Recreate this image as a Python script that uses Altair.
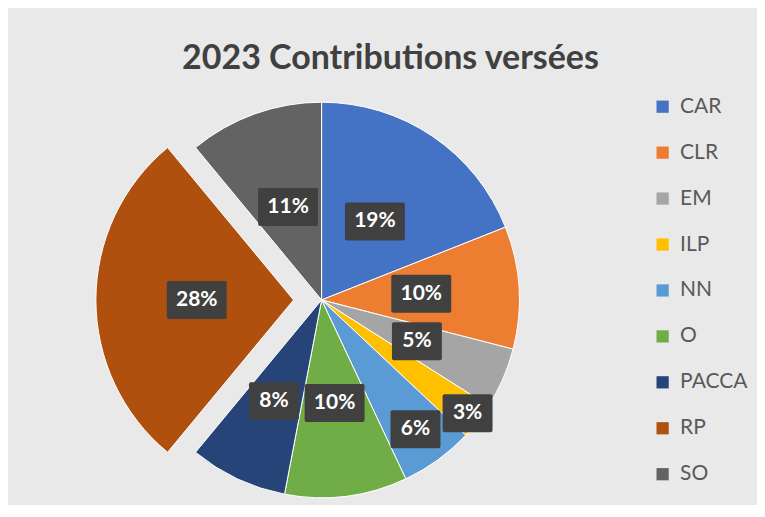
import math
import altair as alt
import pandas as pd

categories = ["CAR", "CLR", "EM", "ILP", "NN", "O", "PACCA", "RP", "SO"]
values = [19, 10, 5, 3, 6, 10, 8, 28, 11]
colors = ["#4472C4", "#ED7D31", "#A5A5A5", "#FFC000", "#5B9BD5",
          "#70AD47", "#264478", "#B0500F", "#636363"]

df = pd.DataFrame({"cat": categories, "val": values, "idx": list(range(len(categories)))})

W, H = 750, 427
CX, CY = 314, 222
R = 198
xs = alt.Scale(domain=[-CX, W - CX], range=[0, W])
ys = alt.Scale(domain=[-CY, H - CY], range=[0, H])

label_radius = (
    "datum.cat == 'ILP' ? 185 : datum.cat == 'NN' ? 160 : datum.cat == 'PACCA' ? 112 : "
    "datum.cat == 'RP' ? 97 : datum.cat == 'CAR' ? 95 : datum.cat == 'CLR' ? 100 : "
    "datum.cat == 'SO' ? 99 : 104"
)

base = alt.Chart(df).transform_window(
    t1="sum(val)", sort=[alt.SortField("idx")], frame=[None, 0]
).transform_calculate(
    t0="datum.t1 - datum.val",
    mid="(datum.t1 - datum.val / 2) / 100 * 2 * PI",
    ex="datum.cat == 'RP' ? 28 : 0",
    lr=label_radius,
    label="format(datum.val, 'd') + '%'",
).transform_calculate(
    cx="datum.ex * sin(datum.mid)",
    cy="-datum.ex * cos(datum.mid)",
    lx="(datum.ex + datum.lr) * sin(datum.mid)",
    ly="-(datum.ex + datum.lr) * cos(datum.mid)",
)

pie = base.mark_arc(outerRadius=R, stroke="white", strokeWidth=1).encode(
    x=alt.X("cx:Q", scale=xs, axis=None),
    y=alt.Y("cy:Q", scale=ys, axis=None),
    theta=alt.Theta("t0:Q", scale=alt.Scale(domain=[0, 100], range=[0, 2 * math.pi])),
    theta2="t1:Q",
    color=alt.Color(
        "cat:N",
        scale=alt.Scale(domain=categories, range=colors),
        sort=categories,
        legend=alt.Legend(
            title=None, orient="none", legendX=645, legendY=18,
            symbolType="square", symbolSize=150, symbolStrokeWidth=0,
            labelFont="Lato", labelFontSize=21, labelColor="#595959",
            rowPadding=24, labelOffset=7, padding=0,
        ),
    ),
    order=alt.Order("idx:Q"),
)

enc_box = dict(
    x=alt.X("lx:Q", scale=xs, axis=None), x2="lx:Q",
    y=alt.Y("ly:Q", scale=ys, axis=None), y2="ly:Q",
)
box2 = base.transform_filter("datum.val >= 10").mark_rect(
    fill="#404040", xOffset=-30, x2Offset=30, yOffset=-19, y2Offset=19, cornerRadius=2
).encode(**enc_box)
box1 = base.transform_filter("datum.val < 10").mark_rect(
    fill="#404040", xOffset=-25, x2Offset=25, yOffset=-19, y2Offset=19, cornerRadius=2
).encode(**enc_box)

txt = base.mark_text(
    color="white", font="Lato", fontSize=21, fontWeight="bold", baseline="middle", align="center"
).encode(
    x=alt.X("lx:Q", scale=xs, axis=None),
    y=alt.Y("ly:Q", scale=ys, axis=None),
    text="label:N",
)

chart = alt.layer(pie, box2, box1, txt).properties(
    width=W, height=H,
    title=alt.TitleParams(
        "2023 Contributions versées", font="Lato", fontSize=34, fontWeight="bold",
        color="#404040", anchor="middle", offset=-25, dx=8, baseline="alphabetic",
    ),
    autosize=alt.AutoSizeParams(type="none"),
    padding={"left": 0, "top": 70, "right": 0, "bottom": 0},
    background="#e9e9e9",
).configure_view(stroke=None)

chart.save("out.html", embed_options={"renderer": "svg", "actions": False})
